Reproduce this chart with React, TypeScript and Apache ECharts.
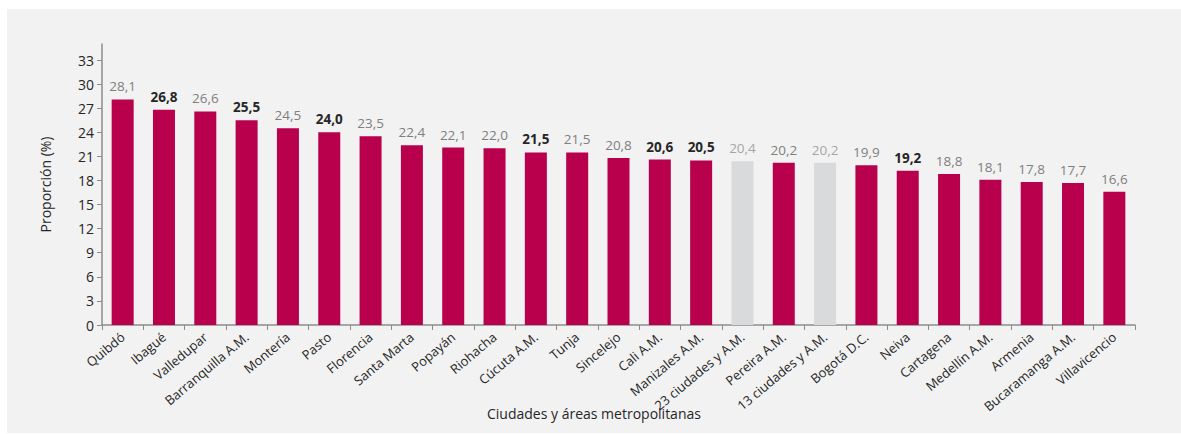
import React, { useEffect, useRef } from "react";
import * as echarts from "echarts";

const categories = [
  "Quibdó", "Ibagué", "Valledupar", "Barranquilla A.M.", "Montería", "Pasto", "Florencia",
  "Santa Marta", "Popayán", "Riohacha", "Cúcuta A.M.", "Tunja", "Sincelejo", "Cali A.M.",
  "Manizales A.M.", "23 ciudades y A.M.", "Pereira A.M.", "13 ciudades y A.M.", "Bogotá D.C.",
  "Neiva", "Cartagena", "Medellín A.M.", "Armenia", "Bucaramanga A.M.", "Villavicencio",
];
const values = [
  28.1, 26.8, 26.6, 25.5, 24.5, 24.0, 23.5, 22.4, 22.1, 22.0, 21.5, 21.5, 20.8, 20.6,
  20.5, 20.4, 20.2, 20.2, 19.9, 19.2, 18.8, 18.1, 17.8, 17.7, 16.6,
];
const aggregateCategories = ["23 ciudades y A.M.", "13 ciudades y A.M."];
const boldLabelCategories = ["Ibagué", "Barranquilla A.M.", "Pasto", "Cúcuta A.M.", "Cali A.M.", "Manizales A.M.", "Neiva"];
const yTicks = { min: 0, max: 35, interval: 3 };

const FONT = "'Open Sans', 'Noto Sans', sans-serif";

export default function App() {
  const ref = useRef<HTMLDivElement>(null);
  useEffect(() => {
    if (!ref.current) return;
    const chart = echarts.init(ref.current, null, { renderer: "svg" });
    const data = categories.map((c, i) => {
      const agg = aggregateCategories.includes(c);
      const bold = boldLabelCategories.includes(c);
      return {
        value: values[i],
        itemStyle: { color: agg ? "#d9dadc" : "#b8004c" },
        label: {
          color: agg ? "#a6a6a6" : bold ? "#262626" : "#7f7f7f",
          fontWeight: bold ? "bold" : "normal",
        },
      };
    });
    chart.setOption({
      animation: false,
      textStyle: { fontFamily: FONT },
      graphic: [
        {
          type: "rect",
          z: -10,
          silent: true,
          shape: { x: 7, y: 9, width: 1174, height: 424 },
          style: { fill: "#f2f2f2" },
        },
        {
          type: "text",
          left: 487,
          top: 406,
          style: {
            text: "Ciudades y áreas metropolitanas",
            font: `14px ${FONT}`,
            fill: "#262626",
          },
        },
      ],
      grid: { left: 102, right: 46, top: 44, bottom: 109, containLabel: false },
      xAxis: {
        type: "category",
        data: categories,
        axisLine: { lineStyle: { color: "#8c8c8c", width: 1.5 } },
        axisTick: { show: true, length: 5, lineStyle: { color: "#8c8c8c" } },
        axisLabel: {
          interval: 0,
          rotate: 40,
          fontSize: 13,
          color: "#262626",
          fontFamily: FONT,
          margin: 10,
        },
      },
      yAxis: {
        type: "value",
        min: yTicks.min,
        max: yTicks.max,
        interval: yTicks.interval,
        name: "Proporción (%)",
        nameLocation: "middle",
        nameGap: 50,
        nameTextStyle: { fontSize: 14, color: "#262626", fontFamily: FONT },
        axisLine: { show: true, lineStyle: { color: "#8c8c8c", width: 1.5 } },
        axisTick: { show: true, length: 5, lineStyle: { color: "#8c8c8c" } },
        splitLine: { show: false },
        axisLabel: {
          fontSize: 14,
          color: "#262626",
          fontFamily: FONT,
          margin: 8,
          showMaxLabel: false,
        },
      },
      series: [
        {
          type: "bar",
          data,
          barWidth: 22,
          label: {
            show: true,
            position: "top",
            distance: 6,
            fontSize: 13.5,
            fontFamily: FONT,
            formatter: (p: any) => p.value.toFixed(1).replace(".", ","),
          },
        },
      ],
    });
    return () => chart.dispose();
  }, []);
  return (
    <div
      ref={ref}
      style={{ position: "absolute", left: 0, top: 0, width: 1181, height: 434, background: "#ffffff" }}
    />
  );
}
